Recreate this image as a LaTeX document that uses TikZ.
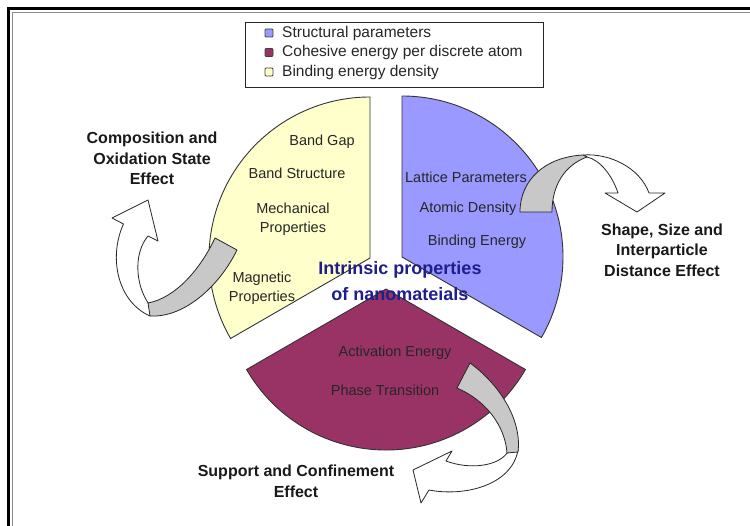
\documentclass[tikz,border=0pt]{standalone}
\usepackage{fontspec}
\setmainfont{Liberation Sans}
\definecolor{secY}{HTML}{FFFFCC}
\definecolor{secB}{HTML}{9999FF}
\definecolor{secM}{HTML}{993366}
\definecolor{navyT}{HTML}{1F1F8C}
\definecolor{arrG}{HTML}{C8C8C8}
\begin{document}
\begin{tikzpicture}[x=1pt,y=1pt,yscale=-1,
  sector/.style={draw=black!80, line width=0.9pt, line join=round},
  lbl/.style={font=\fontsize{14.5}{19.5}\selectfont, text=black!85, align=center, inner sep=0pt},
  effect/.style={font=\fontsize{16}{20.5}\selectfont\bfseries, align=center, text=black!90, inner sep=0pt},
  legtext/.style={font=\fontsize{15.5}{18}\selectfont, anchor=west, inner sep=0pt, text=black!85},
  legmark/.style={draw=black!75, line width=0.8pt, minimum size=8pt, inner sep=0pt, rounded corners=1pt},
  arrwhite/.style={draw=black!85, fill=white, line width=0.8pt, line join=round},
  arrgray/.style={draw=black!85, fill=arrG, line width=0.8pt, line join=round},
  intr/.style={font=\fontsize{18}{22}\selectfont\bfseries, text=navyT, inner sep=0pt}]
\useasboundingbox (0,0) rectangle (750,526);
\fill[white] (0,0) rectangle (750,526);
% frame
\draw[line width=3pt] (8.5,526) -- (8.5,8.5) -- (750,8.5);
\draw[black!45, line width=1pt] (12,526) -- (12,13) -- (750,13);
% legend
\node[draw=black!85, line width=0.8pt, minimum width=298pt, minimum height=65pt, inner sep=0pt] (legend) at (394,54.5) {};
\node[legmark, fill=secB] (mB) at (269,33) {};
\node[legmark, fill=secM] (mM) at (269,52.5) {};
\node[legmark, fill=secY] (mY) at (269,72) {};
\node[legtext] (tB) at (282,33) {Structural parameters};
\node[legtext] (tM) at (282,52.5) {Cohesive energy per discrete atom};
\node[legtext] (tY) at (282,72) {Binding energy density};
% sectors
\filldraw[sector, fill=secY] (370,258) -- (370,97) arc[start angle=270, end angle=150, radius=161] -- cycle;
\filldraw[sector, fill=secB] (402,257) -- (402,96) arc[start angle=270, end angle=390, radius=161] -- cycle;
\filldraw[sector, fill=secM] (386,289) -- ++(150:161) arc[start angle=150, end angle=30, radius=161] -- cycle;
% left arrow
\filldraw[arrwhite] (148,200) -- (158,241) -- (148,236) .. controls (132,255) and (136,290) .. (152,308)
  -- (150,316) .. controls (118,302) and (108,258) .. (123.5,224) -- (112,218) -- cycle;
\filldraw[arrgray] (215,238) .. controls (200,270) and (175,298) .. (148,303) -- (150,316)
  .. controls (185,318) and (220,285) .. (237,250) -- cycle;
% right arrow
\filldraw[arrwhite] (583,155) .. controls (610,153) and (640,168) .. (649,193) -- (665,193) -- (637,212)
  -- (605,193) -- (618,193) .. controls (612,175) and (600,160) .. (587,157) -- cycle;
\filldraw[arrgray] (520,212) .. controls (520,180) and (545,157) .. (583,155) -- (587,157)
  .. controls (565,165) and (552,185) .. (552,212) -- cycle;
% bottom arrow
\filldraw[arrwhite] (518,450) .. controls (512,485) and (465,497) .. (429,490) -- (421,503) -- (413,470)
  -- (452,451) -- (446,461) .. controls (470,470) and (498,466) .. (507,453) -- cycle;
\filldraw[arrgray] (470,363) .. controls (500,385) and (522,420) .. (518,452) -- (507,453)
  .. controls (505,425) and (485,400) .. (457,388) -- cycle;
% sector labels
\node[lbl] (bandgap) at (322,142) {Band Gap};
\node[lbl] (bandstr) at (297,173) {Band Structure};
\node[lbl] (mech) at (293,219.5) {Mechanical\\Properties};
\node[lbl] (magn) at (262,288.5) {Magnetic\\Properties};
\node[lbl] (latt) at (466,177) {Lattice Parameters};
\node[lbl] (atom) at (468,209) {Atomic Density};
\node[lbl] (bind) at (477,242) {Binding Energy};
\node[lbl] (act) at (395,353) {Activation Energy};
\node[lbl] (phase) at (385,390) {Phase Transition};
% centre title
\node[intr] (intr1) at (400,270) {Intrinsic properties};
\node[intr] (intr2) at (400,294) {of nanomateials};
% effect labels
\node[effect] (comp) at (152,158.5) {Composition and\\Oxidation State\\Effect};
\node[effect] (shape) at (662,250) {Shape, Size and\\Interparticle\\Distance Effect};
\node[effect] (supp) at (296,481.5) {Support and Confinement\\Effect};
\end{tikzpicture}
\end{document}
